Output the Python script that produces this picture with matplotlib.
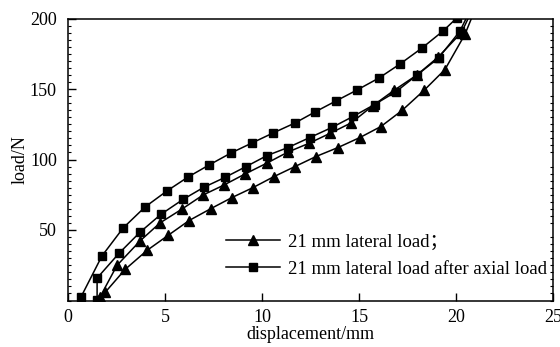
import matplotlib
matplotlib.use("Agg")
import matplotlib.pyplot as plt
from matplotlib.ticker import MultipleLocator
from matplotlib.lines import Line2D

plt.rcParams['font.family'] = ['Liberation Serif', 'Noto Sans CJK SC', 'DejaVu Serif']

# Triangle series (21 mm lateral load): two branches of the loop
tri_low_x = [1.6, 1.91, 2.94, 4.07, 5.15, 6.24, 7.37, 8.45, 9.54, 10.62, 11.70, 12.78, 13.92, 15.05, 16.13, 17.22, 18.35, 19.43, 20.46, 21.0]
tri_low_y = [0.5, 5.7, 22.0, 35.5, 46.1, 56.7, 65.2, 73.0, 80.1, 87.9, 95.0, 102.1, 108.5, 115.6, 123.4, 134.8, 149.0, 163.8, 188.7, 207]
tri_up_x = [1.65, 2.53, 3.71, 4.74, 5.88, 6.96, 8.04, 9.12, 10.26, 11.34, 12.42, 13.5, 14.6, 15.7, 16.8, 17.99, 19.07, 20.28, 20.8]
tri_up_y = [2.5, 25.0, 42.2, 55.0, 64.9, 74.8, 81.9, 89.7, 97.5, 105.3, 111.5, 118.5, 126.0, 138.0, 149.0, 160.0, 172.5, 190.0, 205]

# Square series (21 mm lateral load after axial load)
sq_up_x = [0.67, 1.75, 2.84, 3.97, 5.1, 6.19, 7.27, 8.4, 9.48, 10.57, 11.70, 12.73, 13.81, 14.90, 16.03, 17.11, 18.25, 19.33, 20.05]
sq_up_y = [2.5, 31.6, 51.4, 66.3, 77.7, 87.6, 96.1, 104.6, 111.7, 118.8, 125.9, 133.7, 141.5, 149.3, 157.8, 167.7, 179.1, 191.1, 200.5]
sq_low_x = [1.5, 1.5, 2.63, 3.71, 4.79, 5.93, 6.99, 8.09, 9.18, 10.26, 11.34, 12.47, 13.6, 14.69, 15.8, 16.9, 18.0, 19.1, 20.2, 20.7]
sq_low_y = [0.5, 15.9, 33.5, 48.4, 61.1, 71.7, 80.2, 87.3, 95.0, 102.8, 108.5, 115.6, 122.7, 130.5, 139.0, 148.0, 160.0, 172.0, 191.0, 205]

legend_labels = ['21 mm lateral load；', '21 mm lateral load after axial load']

fig = plt.figure(figsize=(5.6, 3.47), dpi=100)
ax = fig.add_axes([68/560, 1-300.5/347, (553-68)/560, (300.5-18.5)/347])

kw = dict(color='black', lw=1.1, clip_on=True)
ax.plot(tri_low_x, tri_low_y, marker='^', ms=7, **kw)
ax.plot(tri_up_x, tri_up_y, marker='^', ms=7, **kw)
ax.plot(sq_up_x, sq_up_y, marker='s', ms=6, **kw)
ax.plot(sq_low_x, sq_low_y, marker='s', ms=6, **kw)

h1 = Line2D([], [], color='black', lw=1.1, marker='^', ms=7)
h2 = Line2D([], [], color='black', lw=1.1, marker='s', ms=6)
ax.legend([h1, h2], legend_labels,
          loc='lower right', bbox_to_anchor=(1.01, 0.04), frameon=False,
          fontsize=13.5, handlelength=2.9, handletextpad=0.4, labelspacing=0.55,
          borderaxespad=0.2)

ax.set_xlim(0, 25)
ax.set_ylim(0, 200)
ax.set_xticks([0, 5, 10, 15, 20, 25])
ax.set_yticks([50, 100, 150, 200])
ax.yaxis.set_minor_locator(MultipleLocator(5))
ax.tick_params(axis='both', which='major', direction='in', length=6, width=1, labelsize=13, top=False)
ax.tick_params(axis='y', which='minor', direction='in', length=2, width=0.8, left=True, right=True)
ax.tick_params(axis='y', which='major', right=False, pad=8)
ax.tick_params(axis='x', which='major', pad=6)
for s in ax.spines.values():
    s.set_linewidth(1.1)

ax.set_xlabel('displacement/mm', fontsize=13, labelpad=0)
ax.set_ylabel('load/N', fontsize=13, labelpad=1)

fig.savefig('out.png', dpi=100)
